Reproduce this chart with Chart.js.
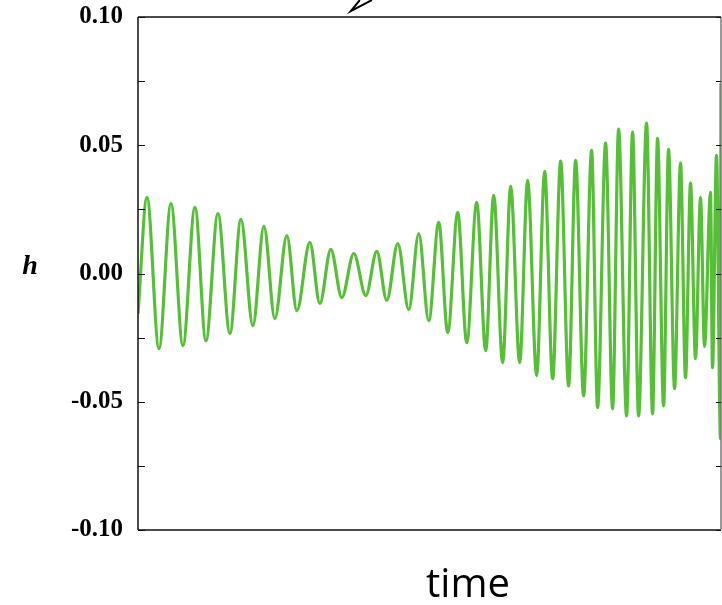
<!DOCTYPE html>
<html>
<head>
<meta charset="utf-8">
<script src="https://cdn.jsdelivr.net/npm/chart.js@4.4.1/dist/chart.umd.min.js"></script>
<style>
    html, body { margin: 0; padding: 0; background: #fff; }
    #wrap { width: 722px; height: 605px; }
</style>
</head>
<body>
<div id="wrap"><canvas id="graph_h"></canvas></div>
<script>
// ############################## ONDA h vs time ############################### //
// extremos (tiempo en unidades arbitrarias)
const tiempo = [0, 9, 21, 33, 45, 57, 68, 80, 92, 103, 115, 126, 137, 149, 159, 172, 182, 193, 204, 216,
    228, 239, 249, 260, 271, 281, 291, 301, 310, 320, 329, 339, 348, 356, 365, 373, 382, 390, 399, 407,
    415, 423, 431, 438, 446, 454, 460, 468, 475, 481, 489, 495, 501, 509, 515, 520, 526, 531, 537, 543,
    548, 553, 558, 563, 567, 573, 575, 579, 583, 583.4];
const h = [-0.0156, 0.0297, -0.0293, 0.0273, -0.0281, 0.0258, -0.0262, 0.0234, -0.0234, 0.0211, -0.0203,
    0.0184, -0.0176, 0.0148, -0.0145, 0.0121, -0.0117, 0.0094, -0.0094, 0.0078, -0.0086, 0.0086, -0.0105,
    0.0117, -0.0141, 0.0156, -0.0184, 0.0199, -0.0230, 0.0238, -0.0270, 0.0277, -0.0301, 0.0305, -0.0348,
    0.0340, -0.0348, 0.0363, -0.0398, 0.0398, -0.0410, 0.0438, -0.0438, 0.0441, -0.0477, 0.0480, -0.0523,
    0.0508, -0.0527, 0.0563, -0.0555, 0.0551, -0.0555, 0.0586, -0.0547, 0.0527, -0.0516, 0.0484, -0.0449,
    0.0430, -0.0406, 0.0352, -0.0332, 0.0297, -0.0285, 0.0316, -0.0367, 0.0461, -0.0645, 0.0742];
const yTicks = ['0.10', '0.05', '0.00', '-0.05', '-0.10'];
// flecha de anotacion arriba del grafico (punta y dos brazos)
const flecha = { t0: 213, h0: 0.1023, t1: 234, h1: 0.1066, t2: 222, h2: 0.1066 };

(function(){
    const puntos = [];
    for (let i = 0; i < tiempo.length; i++) {
        puntos.push({x: tiempo[i], y: h[i]});
    }

    const serif = '"Liberation Serif", "Times New Roman", Times, serif';

    // marco, ticks hacia dentro y textos de los ejes
    const marco = {
        id: 'marco',
        afterDraw(chart) {
            const ctx = chart.ctx;
            const a = chart.chartArea;
            const ys = chart.scales.y;
            const xs = chart.scales.x;
            ctx.save();
            ctx.strokeStyle = '#111';
            ctx.lineWidth = 1.5;
            ctx.beginPath();
            ctx.moveTo(a.left, a.top); ctx.lineTo(a.right, a.top);
            ctx.moveTo(a.left, a.bottom); ctx.lineTo(a.right, a.bottom);
            ctx.moveTo(a.left, a.top); ctx.lineTo(a.left, a.bottom);
            ctx.stroke();
            ctx.strokeStyle = '#777';
            ctx.beginPath();
            ctx.moveTo(a.right, a.top); ctx.lineTo(a.right, a.bottom);
            ctx.stroke();
            ctx.strokeStyle = '#111';
            ctx.lineWidth = 1.2;
            ys.ticks.forEach(function(tk) {
                const py = Math.round(ys.getPixelForValue(tk.value)) + 0.5;
                ctx.beginPath();
                ctx.moveTo(a.left, py); ctx.lineTo(a.left + 7, py);
                ctx.moveTo(a.right - 5, py); ctx.lineTo(a.right, py);
                ctx.stroke();
            });
            // flecha
            const px0 = xs.getPixelForValue(flecha.t0), py0 = ys.getPixelForValue(flecha.h0);
            const px1 = xs.getPixelForValue(flecha.t1), py1 = ys.getPixelForValue(flecha.h1);
            const px2 = xs.getPixelForValue(flecha.t2), py2 = ys.getPixelForValue(flecha.h2);
            ctx.lineWidth = 2;
            ctx.strokeStyle = '#000';
            ctx.beginPath();
            ctx.moveTo(px1, py1); ctx.lineTo(px0, py0); ctx.lineTo(px2, py2);
            ctx.stroke();
            // etiquetas
            ctx.fillStyle = '#000';
            ctx.textAlign = 'center';
            ctx.textBaseline = 'middle';
            ctx.font = 'bold italic 28px ' + serif;
            ctx.fillText('h', 30, ys.getPixelForValue(0) - 7);
            ctx.font = '40px "Open Sans"';
            ctx.textBaseline = 'alphabetic';
            ctx.fillText('time', 468, 597);
            ctx.restore();
        }
    };

    const config = {
        type: 'line',
        data: {
            datasets: [{
                label: 'h',
                data: puntos,
                borderColor: '#55bf35',
                borderWidth: 3.2,
                pointRadius: 0,
                cubicInterpolationMode: 'monotone',
                fill: false
            }]
        },
        options: {
            responsive: true,
            maintainAspectRatio: false,
            animation: false,
            layout: { padding: { top: 17, right: 1, left: 0, bottom: 0 } },
            scales: {
                x: {
                    type: 'linear',
                    min: 0,
                    max: 583.5,
                    ticks: { display: false },
                    grid: { display: false },
                    border: { display: false },
                    afterFit: function(scale) { scale.height = 75; }
                },
                y: {
                    min: -0.1,
                    max: 0.1,
                    grid: { display: false },
                    border: { display: false },
                    ticks: {
                        stepSize: 0.025,
                        color: '#000',
                        padding: 7,
                        font: { family: serif, weight: 'bold', size: 25 },
                        callback: function(value) {
                            const k = Math.round(value / 0.05);
                            if (Math.abs(k * 0.05 - value) > 1e-9) return '';
                            return yTicks[2 - k];
                        }
                    },
                    afterFit: function(scale) {
                        scale.width = 138;
                        scale.paddingTop = 0;
                        scale.paddingBottom = 0;
                    }
                }
            },
            plugins: {
                legend: { display: false },
                tooltip: { enabled: false },
                title: { display: false }
            }
        },
        plugins: [marco]
    };

    const h_chart = new Chart(document.getElementById('graph_h'), config);
})();
// ###################################################################################### //
</script>
</body>
</html>
